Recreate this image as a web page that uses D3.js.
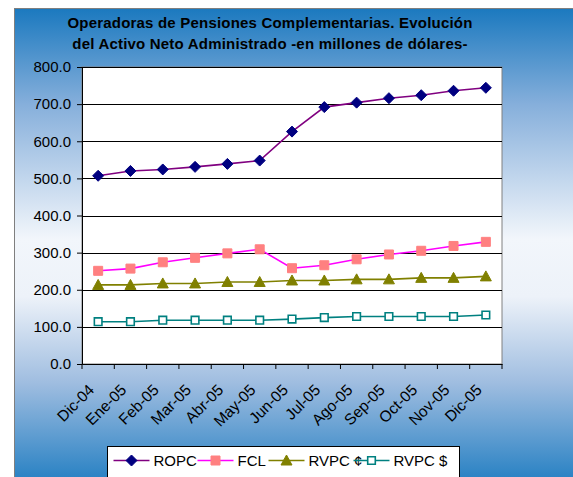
<!DOCTYPE html>
<html>
<head>
<meta charset="utf-8">
<script src="https://cdn.jsdelivr.net/npm/d3@7"></script>
<style>
  body { margin: 0; background: #fff; }
  svg { display: block; font-family: "Liberation Sans", Arial, sans-serif; }
</style>
</head>
<body>
<svg id="chart" width="573" height="477"></svg>
<script>
// data (millones de dolares)
var months = ["Dic-04", "Ene-05", "Feb-05", "Mar-05", "Abr-05", "May-05", "Jun-05",
              "Jul-05", "Ago-05", "Sep-05", "Oct-05", "Nov-05", "Dic-05"];
var ropc  = [507, 520, 524, 531, 539, 548, 626, 692, 704, 716, 724, 736, 744];
var fcl   = [251, 257, 274, 286, 298, 309, 258, 266, 282, 295, 305, 318, 329];
var rvpcC = [213, 213, 217, 217, 221, 221, 225, 225, 228, 228, 232, 232, 236];
var rvpcD = [114, 114, 118, 118, 118, 118, 121, 125, 128, 128, 128, 128, 132];
var yTicks = [0, 100, 200, 300, 400, 500, 600, 700, 800];
var seriesNames = ["ROPC", "FCL", "RVPC \u00a2", "RVPC $"];

var svg = d3.select("#chart"),
	margin = {top: 67, right: 71, bottom: 113, left: 82},
	width = +svg.attr("width") - margin.left - margin.right,
	height = +svg.attr("height") - margin.top - margin.bottom;

// background gradient of the chart area
var defs = svg.append("defs");
var grad = defs.append("linearGradient")
	.attr("id", "bg").attr("x1", 0).attr("y1", 0).attr("x2", 0).attr("y2", 1);
[[0, "#1b79bf"], [0.2, "#86afdb"], [0.48, "#f2f6fb"], [0.6, "#edf2f9"],
 [0.78, "#9fbde0"], [1, "#1e7cc1"]].forEach(function(s) {
	grad.append("stop").attr("offset", s[0]).attr("stop-color", s[1]);
});

svg.append("rect")
	.attr("x", 14.5).attr("y", 8.5)
	.attr("width", 600).attr("height", 480)
	.attr("fill", "url(#bg)")
	.attr("stroke", "#7f7f7f");

var titleLines = ["Operadoras de Pensiones Complementarias. Evoluci\u00f3n",
                  "del Activo Neto Administrado -en millones de d\u00f3lares-"];
svg.selectAll(".title")
	.data(titleLines)
  .enter().append("text")
	.attr("class", "title")
	.attr("x", 270)
	.attr("y", function(d, i) { return 28 + i * 21; })
	.attr("text-anchor", "middle")
	.style("font-weight", "bold").style("font-size", "15px")
	.style("letter-spacing", "0.2px")
	.text(function(d) { return d; });

var x = d3.scaleBand().domain(months).range([0, width]);
var y = d3.scaleLinear().domain([0, 800]).range([height, 0]);

var g = svg.append("g")
	.attr("transform", "translate(" + margin.left + "," + margin.top + ")");

g.append("rect")
	.attr("width", width).attr("height", height)
	.attr("fill", "#fff")
	.attr("stroke", "#808080");

// gridlines
g.selectAll(".grid")
	.data(yTicks.slice(1))
  .enter().append("line")
	.attr("class", "grid")
	.attr("x1", 0).attr("x2", width)
	.attr("y1", function(d) { return Math.round(y(d)) + 0.5; })
	.attr("y2", function(d) { return Math.round(y(d)) + 0.5; })
	.attr("stroke", "#000");

var yAxis = g.append("g")
	.call(d3.axisLeft(y).tickValues(yTicks).tickSize(5).tickPadding(6).tickFormat(d3.format(".1f")));
yAxis.selectAll("text").style("font-size", "15px").attr("fill", "#000");
yAxis.selectAll("line, path").attr("stroke", "#000");

var xAxis = g.append("g")
	.attr("transform", "translate(0," + height + ")")
	.call(d3.axisBottom(x).tickSize(0).tickPadding(0));
xAxis.select(".domain").attr("stroke", "#000");
xAxis.selectAll(".tick text")
	.attr("transform", "translate(-3,27) rotate(-45)")
	.attr("text-anchor", "end")
	.attr("dy", 0)
	.attr("y", 0)
	.attr("fill", "#000")
	.style("font-size", "15.5px");
// ticks sit between the categories
xAxis.selectAll(".sep")
	.data(months.map(function(d) { return x(d); }).concat([width]))
  .enter().append("line")
	.attr("class", "sep")
	.attr("x1", function(d) { return d; }).attr("x2", function(d) { return d; })
	.attr("y1", 0).attr("y2", 5)
	.attr("stroke", "#000");

function cx(i) { return x(months[i]) + x.bandwidth() / 2; }

var diamond = "M0,-5.5L5.5,0L0,5.5L-5.5,0Z",
	square = "M-4.5,-4.5H4.5V4.5H-4.5Z",
	triangle = "M0,-5.5L5.5,4.5H-5.5Z",
	hollow = "M-3.8,-3.8H3.8V3.8H-3.8Z";

var series = [
	{name: seriesNames[0], values: ropc,  line: "#800080", marker: diamond,  fill: "#000080", stroke: "#000080", sw: 1},
	{name: seriesNames[1], values: fcl,   line: "#ff00ff", marker: square,   fill: "#ff8080", stroke: "#ff8080", sw: 1},
	{name: seriesNames[2], values: rvpcC, line: "#808000", marker: triangle, fill: "#808000", stroke: "#808000", sw: 1},
	{name: seriesNames[3], values: rvpcD, line: "#008080", marker: hollow,   fill: "#fff",    stroke: "#008080", sw: 1.6}
];

var line = d3.line()
	.x(function(d, i) { return cx(i); })
	.y(function(d) { return y(d); });

series.forEach(function(s) {
	g.append("path")
		.datum(s.values)
		.attr("d", line)
		.attr("fill", "none")
		.attr("stroke", s.line)
		.attr("stroke-width", 1.6);
	g.selectAll(null)
		.data(s.values)
	  .enter().append("path")
		.attr("d", s.marker)
		.attr("transform", function(d, i) { return "translate(" + cx(i) + "," + y(d) + ")"; })
		.attr("fill", s.fill)
		.attr("stroke", s.stroke)
		.attr("stroke-width", s.sw);
});

// legend
var legend = svg.append("g").attr("transform", "translate(107.5,446.5)");
legend.append("rect")
	.attr("width", 352).attr("height", 40)
	.attr("fill", "#fff").attr("stroke", "#000");
var legX = [6, 90, 161, 246];
series.forEach(function(s, i) {
	var it = legend.append("g").attr("transform", "translate(" + legX[i] + ",0)");
	it.append("line")
		.attr("x1", 0).attr("x2", 36).attr("y1", 14).attr("y2", 14)
		.attr("stroke", s.line).attr("stroke-width", 1.6);
	it.append("path")
		.attr("d", s.marker)
		.attr("transform", "translate(18,14)")
		.attr("fill", s.fill).attr("stroke", s.stroke).attr("stroke-width", s.sw);
	it.append("text")
		.attr("x", 40).attr("y", 19)
		.style("font-size", "15px")
		.text(s.name);
});
</script>
</body>
</html>
